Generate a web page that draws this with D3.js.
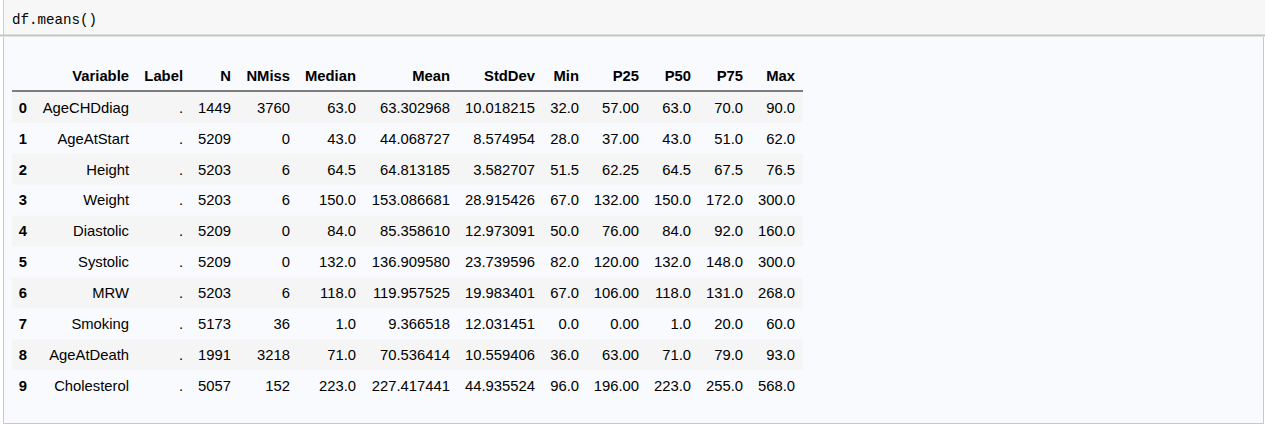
<!DOCTYPE html>
<html>
<head>
<meta charset="utf-8">
<style>
    body { margin: 0; background: #fff; }
    .cell { font-family: "Liberation Sans", Arial, sans-serif; font-size: 14.8px; fill: #000; }
    .head { font-weight: bold; }
    .code { font-family: "Liberation Mono", "DejaVu Sans Mono", monospace; font-size: 14.2px; fill: #000; }
</style>
</head>
<body>
<svg width="1265" height="425"></svg>
<script src="https://cdn.jsdelivr.net/npm/d3@7"></script>
<script>

// table data
var columns = ["Variable", "Label", "N", "NMiss", "Median", "Mean", "StdDev", "Min", "P25", "P50", "P75", "Max"];
var variables = ["AgeCHDdiag", "AgeAtStart", "Height", "Weight", "Diastolic", "Systolic", "MRW", "Smoking", "AgeAtDeath", "Cholesterol"];
var labels = [".", ".", ".", ".", ".", ".", ".", ".", ".", "."];
var nValues = [1449, 5209, 5203, 5203, 5209, 5209, 5203, 5173, 1991, 5057];
var nMiss = [3760, 0, 6, 6, 0, 0, 6, 36, 3218, 152];
var median = [63.0, 43.0, 64.5, 150.0, 84.0, 132.0, 118.0, 1.0, 71.0, 223.0];
var mean = [63.302968, 44.068727, 64.813185, 153.086681, 85.358610, 136.909580, 119.957525, 9.366518, 70.536414, 227.417441];
var stdDev = [10.018215, 8.574954, 3.582707, 28.915426, 12.973091, 23.739596, 19.983401, 12.031451, 10.559406, 44.935524];
var minV = [32.0, 28.0, 51.5, 67.0, 50.0, 82.0, 67.0, 0.0, 36.0, 96.0];
var p25 = [57.00, 37.00, 62.25, 132.00, 76.00, 120.00, 106.00, 0.00, 63.00, 196.00];
var p50 = [63.0, 43.0, 64.5, 150.0, 84.0, 132.0, 118.0, 1.0, 71.0, 223.0];
var p75 = [70.0, 51.0, 67.5, 172.0, 92.0, 148.0, 131.0, 20.0, 79.0, 255.0];
var maxV = [90.0, 62.0, 76.5, 300.0, 160.0, 300.0, 268.0, 60.0, 93.0, 568.0];

var f1 = d3.format(".1f"), f2 = d3.format(".2f"), f6 = d3.format(".6f"), fi = d3.format("d");
var colValues = [
    [variables, String], [labels, String], [nValues, fi], [nMiss, fi],
    [median, f1], [mean, f6], [stdDev, f6], [minV, f1],
    [p25, f2], [p50, f1], [p75, f1], [maxV, f1]
];

var svg = d3.select("svg");

// notebook chrome: input cell and output area
svg.append("rect").attr("x", 3).attr("y", 0).attr("width", 1262).attr("height", 35).attr("fill", "#f7f7f7");
svg.append("line").attr("x1", 3.5).attr("x2", 3.5).attr("y1", 0).attr("y2", 35).attr("stroke", "#cfcfcf");
svg.append("line").attr("x1", 0).attr("x2", 1265).attr("y1", 35.5).attr("y2", 35.5).attr("stroke", "#c4c4c4").attr("stroke-width", 2);
svg.append("text").attr("class", "code").attr("x", 12).attr("y", 24).text("df.means()");

svg.append("rect").attr("x", 3).attr("y", 37).attr("width", 1260).attr("height", 386).attr("fill", "#f9fafe");
svg.append("path")
    .attr("d", "M3.5,37V423.5H1263.5V37")
    .attr("fill", "none").attr("stroke", "#c8c8c8");

// scales
var rowIdx = d3.range(variables.length);
var y = d3.scaleBand().domain(rowIdx).range([92, 401]);
var x = d3.scaleOrdinal()
    .domain(["index"].concat(columns))
    .range([27, 129, 183, 231, 290, 356, 450, 535, 579, 639, 691, 743, 795]);
var tableLeft = 12, tableRight = 803;

var g = svg.append("g");

// striped rows
g.selectAll(".stripe")
    .data(rowIdx.filter(function(d) { return d % 2 === 0; }))
    .enter().append("rect")
    .attr("class", "stripe")
    .attr("x", tableLeft)
    .attr("width", tableRight - tableLeft)
    .attr("y", function(d) { return y(d); })
    .attr("height", y.bandwidth())
    .attr("fill", "#f5f5f5");

// header
g.selectAll(".hcol")
    .data(columns)
    .enter().append("text")
    .attr("class", "cell head")
    .attr("x", function(d) { return x(d); })
    .attr("y", 81)
    .attr("text-anchor", "end")
    .text(function(d) { return d; });

g.append("line")
    .attr("x1", tableLeft).attr("x2", tableRight)
    .attr("y1", 91).attr("y2", 91)
    .attr("stroke", "#000").attr("stroke-width", 1);

// body rows
var rows = g.selectAll(".row")
    .data(rowIdx)
    .enter().append("g")
    .attr("class", "row")
    .attr("transform", function(d) { return "translate(0," + (y(d) + y.bandwidth() / 2 + 5.3) + ")"; });

rows.append("text")
    .attr("class", "cell head")
    .attr("x", x("index"))
    .attr("text-anchor", "end")
    .text(function(d) { return d; });

columns.forEach(function(c, ci) {
    rows.append("text")
        .attr("class", "cell")
        .attr("x", x(c))
        .attr("text-anchor", "end")
        .text(function(d) { return colValues[ci][1](colValues[ci][0][d]); });
});

</script>
</body>
</html>
